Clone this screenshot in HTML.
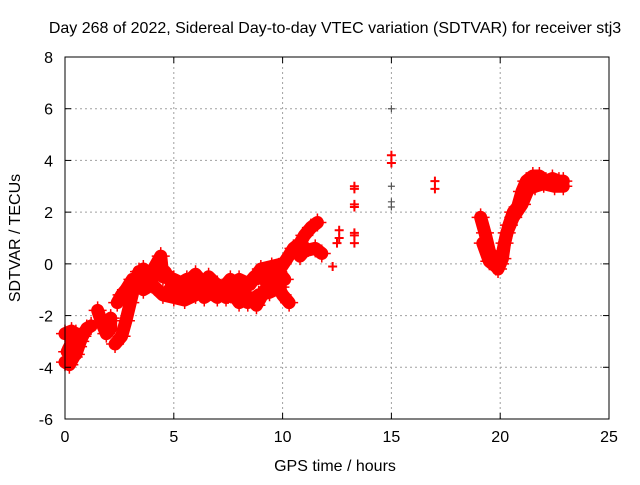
<!DOCTYPE html>
<html><head><meta charset="utf-8"><style>
body{margin:0;background:#fff}
svg text{font-family:"Liberation Sans",sans-serif;font-size:16px;fill:#000}
</style></head><body>
<svg id="chart" width="640" height="480" viewBox="0 0 640 480" xmlns="http://www.w3.org/2000/svg">
<text x="335" y="33" text-anchor="middle">Day 268 of 2022, Sidereal Day-to-day VTEC variation (SDTVAR) for receiver stj3</text>
<g id="grid"></g><g id="marks"></g><g id="axes"></g>
<text x="335" y="471" text-anchor="middle">GPS time / hours</text>
<text transform="translate(20,238) rotate(-90)" text-anchor="middle">SDTVAR / TECUs</text>
</svg>
<script>
const xTicks=[0,5,10,15,20,25];
const yTicks=[-6,-4,-2,0,2,4,6,8];
const trackA=[[0,-3.8],[0.2,-3.9],[0.4,-3.6],[0.6,-3.2],[0.8,-2.8],[1.0,-2.5],[1.2,-2.4]];
const trackB=[[0,-2.7],[0.3,-2.6],[0.5,-2.7],[0.1,-3.4],[0.3,-3.2],[0.5,-3.5],[0.7,-3.0]];
const trackC=[[1.5,-1.8],[1.7,-2.3],[1.9,-2.7],[2.1,-2.5],[2.1,-2.1]];
const trackD=[[2.3,-3.1],[2.6,-2.8],[2.8,-2.2],[3.0,-1.5],[3.2,-0.8],[3.4,-0.3]];
const trackE=[[2.4,-1.5],[2.6,-1.2],[2.8,-1.0],[3.1,-0.6]];
const trackF=[[3.5,-0.6],[4,-0.3],[4.4,0.3],[4.5,-0.5],[5,-0.6],[5.5,-0.8],[6,-0.4],[6.5,-0.9],[7,-0.8],[7.5,-1.2],[8,-0.6],[8.5,-0.8],[9,-0.2],[9.5,-0.1],[10,0]];
const trackG=[[3.6,-1.0],[4,-0.8],[4.5,-1.2],[5,-1.3],[5.5,-1.4],[6,-1.2],[6.5,-1.0],[7,-1.3],[7.5,-0.9],[8,-1.5],[8.5,-1.3],[8.8,-1.6],[9.2,-1.0],[9.6,-0.6],[10,-1.2],[10.3,-1.5]];
const trackM=[[3.6,-0.2],[4,-0.5],[4.6,-0.3],[5,-0.9],[5.6,-0.6],[6.2,-0.9],[6.6,-0.5],[7.2,-1.0],[7.6,-0.6],[8.2,-1.0],[8.7,-0.5],[9.2,-0.6],[9.7,-0.2],[10.1,-0.6]];
const trackN=[[4.8,-1.0],[5.3,-1.1],[5.9,-0.7],[6.4,-1.3],[6.9,-1.0],[7.4,-1.3],[7.9,-1.1],[8.4,-1.5],[8.9,-1.2],[9.4,-1.1],[9.9,-0.9]];
const trackH=[[9.8,-0.3],[10.2,0.2],[10.5,0.6],[10.8,0.8],[11,1.1],[11.3,1.4],[11.6,1.6]];
const trackI=[[10.8,0.3],[11,0.5],[11.5,0.6],[11.8,0.4]];
const trackJ=[[19.1,1.8],[19.3,1.2],[19.5,0.5],[19.7,0.1],[19.9,-0.2],[20.1,0.2],[20.2,0.8],[20.4,1.5],[20.6,2.0],[20.8,2.2],[21,2.8],[21.2,3.2],[21.5,3.4],[21.8,3.4],[22.1,3.2],[22.4,3.3],[22.7,3.2],[22.9,3.2]];
const trackK=[[19.2,0.8],[19.5,0.1],[19.8,-0.1],[20,0],[20.3,1.2],[20.6,1.8],[21,2.3],[21.3,2.9],[21.6,3.0],[22,3.1],[22.5,3.0],[22.9,3.0]];
const loose=[[12.3,-0.1],[12.5,0.8],[12.6,1.0],[12.6,1.3],[13.3,3.0],[13.3,2.9],[13.3,2.3],[13.3,2.2],[13.3,1.2],[13.3,1.1],[13.3,0.8],[15,4.2],[15,3.9],[17,3.2],[17,2.9]];
const grey=[[15,6.0],[15,3.0],[15,2.4],[15,2.2]];
const tracks=[trackA,trackB,trackC,trackD,trackE,trackF,trackG,trackM,trackN,trackH,trackI,trackJ,trackK];
const X0=65,X1=609,Y0=419,Y1=57;
const sx=v=>X0+(v-0)/(25-0)*(X1-X0);
const sy=v=>Y0-(v+6)/14*(Y0-Y1);
const NS="http://www.w3.org/2000/svg";
function mk(t,a,p){const e=document.createElementNS(NS,t);for(const k in a)e.setAttribute(k,a[k]);p.appendChild(e);return e;}
const grid=document.getElementById('grid'),axes=document.getElementById('axes'),marks=document.getElementById('marks');
xTicks.forEach(t=>{const x=sx(t);
 if(t>0&&t<25){const g=mk('line',{x1:x,x2:x,y1:Y1,y2:Y0,stroke:'#a0a0a0','stroke-dasharray':'2,3'},grid);}
 mk('line',{x1:x,x2:x,y1:Y0,y2:Y0-6,stroke:'#000'},axes);mk('line',{x1:x,x2:x,y1:Y1,y2:Y1+6,stroke:'#000'},axes);
 const tx=mk('text',{x:x,y:Y0+23,'text-anchor':'middle'},axes);tx.textContent=t;
 
 });
yTicks.forEach(t=>{const y=sy(t);
 if(t>-6&&t<8){const g=mk('line',{x1:X0,x2:X1,y1:y,y2:y,stroke:'#a0a0a0','stroke-dasharray':'2,3'},grid);}
 mk('line',{x1:X0,x2:X0+6,y1:y,y2:y,stroke:'#000'},axes);mk('line',{x1:X1,x2:X1-6,y1:y,y2:y,stroke:'#000'},axes);
 const tx=mk('text',{x:X0-12,y:y+6,'text-anchor':'end'},axes);tx.textContent=t;
 
 });
const fr=mk('rect',{x:X0,y:Y1,width:X1-X0,height:Y0-Y1,fill:'none',stroke:'#000'},axes);


function cross(p,c,parent,s,w){const x=sx(p[0]),y=sy(p[1]);mk('path',{d:`M${x-s},${y}h${2*s}M${x},${y-s}v${2*s}`,stroke:c,'stroke-width':w},parent);}
tracks.forEach(tr=>{
 const g=mk('g',{},marks);
 
 
 mk('polyline',{points:tr.map(p=>sx(p[0])+','+sy(p[1])).join(' '),fill:'none',stroke:'#f00','stroke-width':13,'stroke-linejoin':'round','stroke-linecap':'round'},g);
 tr.forEach(p=>cross(p,'#f00',g,9,1.5));
});
loose.forEach(p=>{const g=mk('g',{},marks);
 
 
 cross(p,'#f00',g,4.5,2);});
grey.forEach(p=>{const g=mk('g',{},marks);
 
 
 cross(p,'#555',g,3.5,1.2);});
</script>
</body></html>
